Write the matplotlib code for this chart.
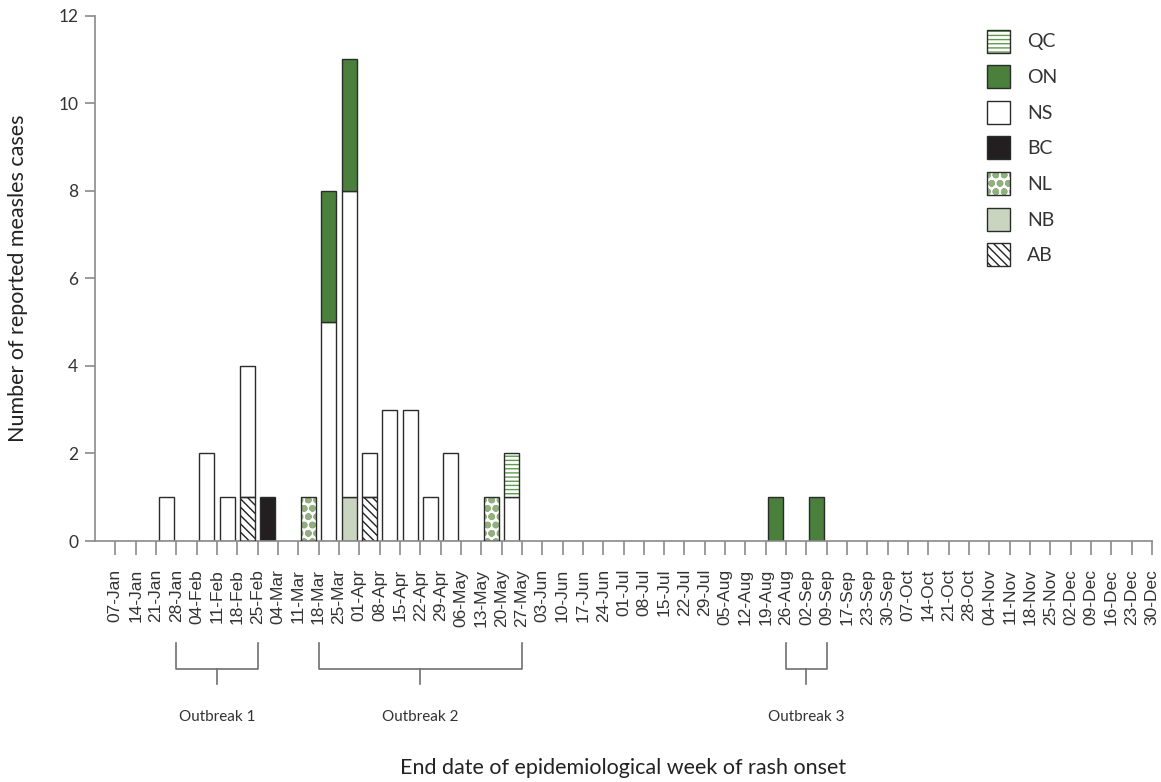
import numpy as np
import matplotlib
matplotlib.use("Agg")
import matplotlib.pyplot as plt
from matplotlib.patches import Patch, Rectangle

plt.rcParams['font.family'] = ['Lato', 'DejaVu Sans']

# week labels (end date of epidemiological week)
weeks = ["07-Jan", "14-Jan", "21-Jan", "28-Jan", "04-Feb", "11-Feb", "18-Feb", "25-Feb",
         "04-Mar", "11-Mar", "18-Mar", "25-Mar", "01-Apr", "08-Apr", "15-Apr", "22-Apr",
         "29-Apr", "06-May", "13-May", "20-May", "27-May", "03-Jun", "10-Jun", "17-Jun",
         "24-Jun", "01-Jul", "08-Jul", "15-Jul", "22-Jul", "29-Jul", "05-Aug", "12-Aug",
         "19-Aug", "26-Aug", "02-Sep", "09-Sep", "17-Sep", "23-Sep", "30-Sep", "07-Oct",
         "14-Oct", "21-Oct", "28-Oct", "04-Nov", "11-Nov", "18-Nov", "25-Nov", "02-Dec",
         "09-Dec", "16-Dec", "23-Dec", "30-Dec"]

# weeks with cases
case_weeks = ["28-Jan", "11-Feb", "18-Feb", "25-Feb", "04-Mar", "18-Mar", "25-Mar", "01-Apr",
              "08-Apr", "15-Apr", "22-Apr", "29-Apr", "06-May", "20-May", "27-May", "26-Aug",
              "09-Sep"]
ab = [0, 0, 0, 1, 0, 0, 0, 0, 1, 0, 0, 0, 0, 0, 0, 0, 0]
nb = [0, 0, 0, 0, 0, 0, 0, 1, 0, 0, 0, 0, 0, 0, 0, 0, 0]
nl = [0, 0, 0, 0, 0, 1, 0, 0, 0, 0, 0, 0, 0, 1, 0, 0, 0]
bc = [0, 0, 0, 0, 1, 0, 0, 0, 0, 0, 0, 0, 0, 0, 0, 0, 0]
ns = [1, 2, 1, 3, 0, 0, 5, 7, 1, 3, 3, 1, 2, 0, 1, 0, 0]
on = [0, 0, 0, 0, 0, 0, 3, 3, 0, 0, 0, 0, 0, 0, 0, 1, 1]
qc = [0, 0, 0, 0, 0, 0, 0, 0, 0, 0, 0, 0, 0, 0, 1, 0, 0]

# stacking order, bottom to top
series = [("AB", ab), ("NB", nb), ("NL", nl), ("BC", bc), ("NS", ns), ("ON", on), ("QC", qc)]
legend_order = ["QC", "ON", "NS", "BC", "NL", "NB", "AB"]

outbreaks = [("Outbreak 1", "28-Jan", "25-Feb"),
             ("Outbreak 2", "18-Mar", "27-May"),
             ("Outbreak 3", "26-Aug", "09-Sep")]

green = "#4a7f3c"
edge = "#2b2b2b"
styles = {
    "AB": dict(fc="white", hatch="\\\\\\\\", hc="#222222", hlw=1.0),
    "NB": dict(fc="#c9d5bf", hatch=None, hc=None, hlw=None),
    "NL": dict(fc="white", hatch="oo", hc="#92b07f", hlw=2.4),
    "BC": dict(fc="#231f20", hatch=None, hc=None, hlw=None),
    "NS": dict(fc="white", hatch=None, hc=None, hlw=None),
    "ON": dict(fc=green, hatch=None, hc=None, hlw=None),
    "QC": dict(fc="white", hatch="----", hc="#5f9a4c", hlw=1.0),
}


def hatched_patch_kw(st):
    return dict(facecolor=st["fc"], edgecolor=st["hc"], hatch=st["hatch"], linewidth=0)


def set_hlw(patch, lw):
    if hasattr(patch, "set_hatch_linewidth"):
        patch.set_hatch_linewidth(lw)


fig = plt.figure(figsize=(11.61, 7.82), dpi=100)
ax = fig.add_axes([95 / 1161, 1 - 541 / 782, 1057 / 1161, 525.5 / 782])

x = np.array([weeks.index(w) for w in case_weeks]) - 0.5
bottom = np.zeros(len(case_weeks))
width = 0.74
for name, vals in series:
    vals = np.array(vals, dtype=float)
    m = vals > 0
    st = styles[name]
    if st["hatch"]:
        with plt.rc_context({"hatch.linewidth": st["hlw"]}):
            b = ax.bar(x[m], vals[m], width, bottom=bottom[m], zorder=2, **hatched_patch_kw(st))
        for p in b:
            set_hlw(p, st["hlw"])
        ax.bar(x[m], vals[m], width, bottom=bottom[m], facecolor="none",
               edgecolor=edge, linewidth=1.0, zorder=3)
    else:
        ax.bar(x[m], vals[m], width, bottom=bottom[m], facecolor=st["fc"],
               edgecolor=edge, linewidth=1.0, zorder=2)
    bottom += vals

ax.set_xlim(-1, len(weeks) - 1)
ax.set_ylim(0, 12)
ax.set_yticks(range(0, 13, 2))
ax.set_xticks(range(len(weeks)))
ax.set_xticklabels(weeks, rotation=90)
for sp in ["top", "right"]:
    ax.spines[sp].set_visible(False)
for sp in ["left", "bottom"]:
    ax.spines[sp].set_color("#8a8a8a")
    ax.spines[sp].set_linewidth(1.2)
ax.tick_params(axis="x", length=10, width=1.2, color="#8a8a8a", pad=10, labelsize=12.5,
               labelfontfamily="Liberation Sans", labelcolor="#333333")
ax.tick_params(axis="y", length=7, width=1.2, color="#8a8a8a", pad=5, labelsize=12.5,
               labelcolor="#333333")

ax.set_ylabel("Number of reported measles cases", fontsize=15.5, color="#222222")
ax.yaxis.set_label_coords(-0.0634, 0.5)
ax.set_xlabel("End date of epidemiological week of rash onset", fontsize=15.5, color="#222222")
ax.xaxis.set_label_coords(0.5, -(768 - 541) / 525.5)
ax.xaxis.label.set_va("center")

# outbreak brackets
tr = ax.get_xaxis_transform()
bc_col = "#6f6f6f"
for label, start, end in outbreaks:
    s, e = weeks.index(start), weeks.index(end)
    c = (s + e) / 2
    ax.plot([s, s, e, e], [-0.1935, -0.2438, -0.2438, -0.1935], transform=tr, color=bc_col,
            lw=1.2, clip_on=False)
    ax.plot([c, c], [-0.2438, -0.2716], transform=tr, color=bc_col, lw=1.2, clip_on=False)
    ax.text(c, -0.335, label, transform=tr, ha="center", va="center", fontsize=11,
            color="#333333")

# legend
handles = []
for name in legend_order:
    st = styles[name]
    if st["hatch"]:
        h1 = Patch(**hatched_patch_kw(st))
        h2 = Patch(facecolor="none", edgecolor=edge, linewidth=1.0)
        handles.append((h1, h2))
    else:
        handles.append(Patch(facecolor=st["fc"], edgecolor=edge, linewidth=1.0))
leg = ax.legend(handles, legend_order, loc="upper left",
                bbox_to_anchor=(987 / 1161, 1 - 29.5 / 782),
                bbox_transform=fig.transFigure, frameon=False, fontsize=14,
                handlelength=1.183, handleheight=1.443, labelspacing=0.65,
                handletextpad=0.87, borderpad=0, borderaxespad=0, labelcolor="#333333")
hlw_by_hatch = {st["hatch"]: st["hlw"] for st in styles.values() if st["hatch"]}
for p in leg.findobj(Rectangle):
    if p.get_hatch() in hlw_by_hatch:
        set_hlw(p, hlw_by_hatch[p.get_hatch()])

fig.savefig("out.png", dpi=100)
